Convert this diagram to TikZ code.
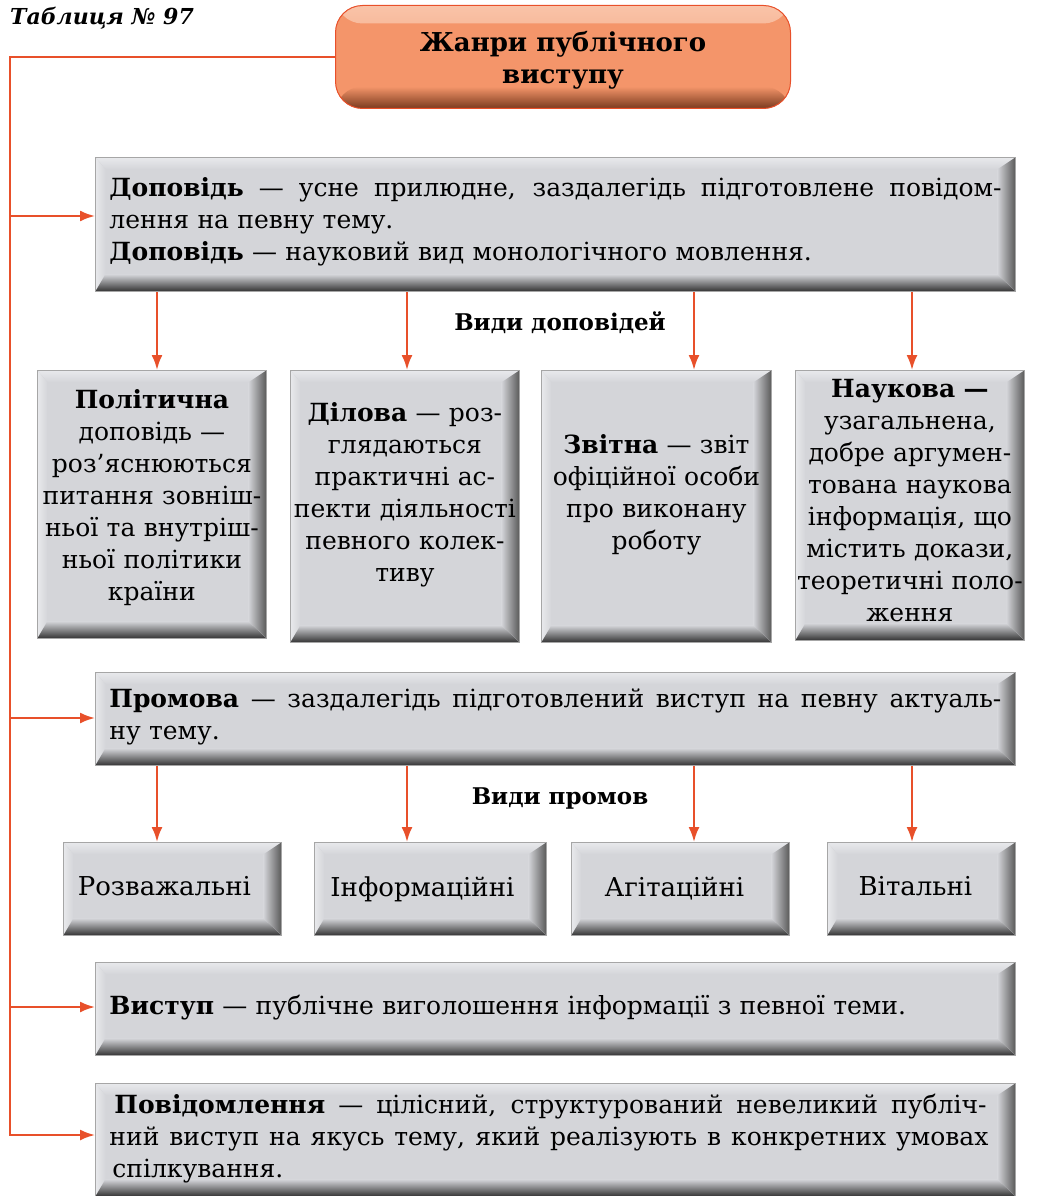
\documentclass[tikz,border=0pt]{standalone}
\usepackage{fontspec}
\setmainfont{DejaVu Serif}
\usetikzlibrary{arrows.meta,calc}
\definecolor{boxgrey}{HTML}{D4D5D9}
\definecolor{boxlight}{HTML}{E8E9EC}
\definecolor{arrred}{HTML}{E8502A}
\definecolor{orfill}{HTML}{F4956A}
\definecolor{orlight}{HTML}{F9C3A8}
\definecolor{ordark}{HTML}{7A3A1E}
\newcommand\jline[2]{\leavevmode\hbox to #1{\spaceskip=0.32em plus 3em\relax #2}}
\tikzset{
  bev/.style={draw=black!35, line width=0.8pt, fill=boxgrey, inner sep=0pt,
    font=\fontsize{25}{32}\selectfont,
    path picture={
      \coordinate (bNW) at (path picture bounding box.north west);
      \coordinate (bNE) at (path picture bounding box.north east);
      \coordinate (bSW) at (path picture bounding box.south west);
      \coordinate (bSE) at (path picture bounding box.south east);
      \fill[top color=boxlight, bottom color=boxgrey]
        (bNW) -- (bNE) -- ([xshift=-18pt,yshift=-12pt]bNE) -- ([xshift=10pt,yshift=-12pt]bNW) -- cycle;
      \fill[left color=boxlight, right color=boxgrey]
        (bNW) -- ([xshift=10pt,yshift=-12pt]bNW) -- ([xshift=10pt,yshift=17pt]bSW) -- (bSW) -- cycle;
      \fill[left color=boxgrey, right color=black!65]
        (bNE) -- ([xshift=-18pt,yshift=-12pt]bNE) -- ([xshift=-18pt,yshift=17pt]bSE) -- (bSE) -- cycle;
      \fill[top color=boxgrey, bottom color=black!80]
        (bSW) -- ([xshift=10pt,yshift=17pt]bSW) -- ([xshift=-18pt,yshift=17pt]bSE) -- (bSE) -- cycle;
    }},
  wide/.style={bev, anchor=north west, minimum width=920pt, text width=892pt, align=left},
  tall/.style={bev, anchor=north west, text width=229pt, align=center},
  small/.style={bev, anchor=north west, minimum height=93pt, font=\fontsize{26}{32}\selectfont},
  orbox/.style={draw=arrred, line width=1pt, rounded corners=27pt, fill=orfill,
    minimum width=455pt, minimum height=103pt, inner sep=0pt,
    font=\fontsize{26}{32}\selectfont\bfseries,
    path picture={
      \fill[top color=orlight, bottom color=orfill]
        (path picture bounding box.north west) rectangle ([yshift=-18pt]path picture bounding box.north east);
      \fill[top color=orfill, bottom color=ordark]
        ([yshift=22pt]path picture bounding box.south west) rectangle (path picture bounding box.south east);
    }},
  arr/.style={draw=arrred, line width=2.2pt, -{Latex[length=15pt,width=11pt]}},
  ln/.style={draw=arrred, line width=2.2pt},
  lbl/.style={font=\fontsize{23}{28}\selectfont\bfseries, inner sep=0pt}
}
\begin{document}
\begin{tikzpicture}[x=1pt,y=-1pt]
\useasboundingbox (0,0) rectangle (1045,1196);
\fill[white] (0,0) rectangle (1045,1196);

\node[anchor=west, inner sep=0pt, font=\fontsize{22}{26}\selectfont\bfseries\itshape] (tab) at (10,18) {Таблиця № 97};

\node[orbox] (title) at (563,57) {\parbox{420pt}{\kern6pt\centering Жанри публічного\\виступу}};

% big boxes
\node[wide, minimum height=134pt] (dop) at (95,157) {%
\jline{892pt}{\textbf{Доповідь} — усне прилюдне, заздалегідь підготовлене повідом-}\\
лення на певну тему.\\
\textbf{Доповідь} — науковий вид монологічного мовлення.\par\kern6pt};

\node[wide, minimum height=93pt] (prom) at (95,672) {%
\jline{892pt}{\textbf{Промова} — заздалегідь підготовлений виступ на певну актуаль-}\\
ну тему.\par\kern3pt};

\node[wide, minimum height=93pt] (vyst) at (95,962) {%
\textbf{Виступ} — публічне виголошення інформації з певної теми.\par\kern2pt};

\node[wide, minimum height=113pt] (povid) at (95,1083) {%
\hspace*{5pt}\jline{872pt}{\textbf{Повідомлення} — цілісний, структурований невеликий публіч-}\\
\jline{879pt}{ний виступ на якусь тему, який реалізують в конкретних умовах}\\
\hspace*{3pt}спілкування.\par\kern3pt};

% report kinds
\node[tall, minimum height=268pt] (polit) at (37,370) {%
\textbf{Політична}\\доповідь —\\роз’яснюються\\питання зовніш-\\ньої та внутріш-\\ньої політики\\країни\par\kern13pt};
\node[tall, minimum height=272pt] (dil) at (290,370) {%
\textbf{Ділова} — роз-\\глядаються\\практичні ас-\\пекти діяльності\\певного колек-\\тиву\par\kern24pt};
\node[tall, minimum height=272pt, text width=230pt] (zvit) at (541,370) {%
\textbf{Звітна} — звіт\\офіційної особи\\про виконану\\роботу\par\kern24pt};
\node[tall, minimum height=270pt] (nauk) at (795,370) {%
\textbf{Наукова —}\\узагальнена,\\добре аргумен-\\тована наукова\\інформація, що\\містить докази,\\теоретичні поло-\\ження\par\kern10pt};

% speech kinds
\node[small, minimum width=218pt] (rozv) at (63,842) {\raisebox{5pt}{Розважальні}\kern16pt};
\node[small, minimum width=232pt] (inf) at (314,842) {\raisebox{5pt}{Інформаційні}\kern16pt};
\node[small, minimum width=218pt] (agit) at (571,842) {\raisebox{5pt}{Агітаційні}\kern12pt};
\node[small, minimum width=188pt] (vit) at (827,842) {\raisebox{5pt}{Вітальні}\kern12pt};

\node[lbl] (vd) at (560,323) {Види доповідей};
\node[lbl] (vp) at (560,798) {Види промов};

% trunk
\coordinate (c0) at (10,57);
\coordinate (t1) at (10,216);
\coordinate (t2) at (10,718);
\coordinate (t3) at (10,1007);
\coordinate (t4) at (10,1135);
\draw[ln, line cap=rect] (title.west) -- (c0) -- (t4);
\draw[arr] (t1) -- (dop.west |- t1);
\draw[arr] (t2) -- (prom.west |- t2);
\draw[arr] (t3) -- (vyst.west |- t3);
\draw[arr] (t4) -- (povid.west |- t4);

% down arrows
\coordinate (xa) at (157,0);
\coordinate (xb) at (407,0);
\coordinate (xc) at (694,0);
\coordinate (xd) at (912,0);
\draw[arr] (dop.south -| xa) -- (polit.north -| xa);
\draw[arr] (dop.south -| xb) -- (dil.north -| xb);
\draw[arr] (dop.south -| xc) -- (zvit.north -| xc);
\draw[arr] (dop.south -| xd) -- (nauk.north -| xd);
\draw[arr] (prom.south -| xa) -- (rozv.north -| xa);
\draw[arr] (prom.south -| xb) -- (inf.north -| xb);
\draw[arr] (prom.south -| xc) -- (agit.north -| xc);
\draw[arr] (prom.south -| xd) -- (vit.north -| xd);
\end{tikzpicture}
\end{document}
